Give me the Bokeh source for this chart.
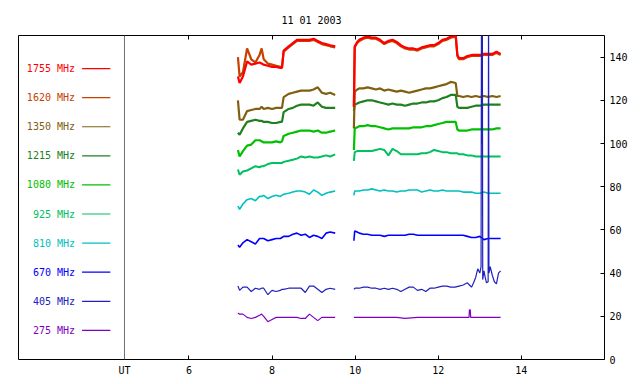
import numpy as np
from bokeh.plotting import figure
from bokeh.models import Range1d, LinearAxis, FixedTicker, Span, ColumnDataSource
from bokeh.core.properties import value
from bokeh.embed import file_html
from bokeh.resources import INLINE

TITLE = "11 01 2003"
FREQS = ["1755 MHz", "1620 MHz", "1350 MHz", "1215 MHz", "1080 MHz",
         "925 MHz", "810 MHz", "670 MHz", "405 MHz", "275 MHz"]
COLORS = ["#ff0000", "#c84000", "#806010", "#208020", "#00c000",
          "#00c060", "#00c0c0", "#0000ff", "#2020c0", "#8000c0"]
WIDTHS = [2.2, 2.2, 2.2, 2.2, 2.2, 2, 1.6, 1.6, 1.2, 1.2]

X_TICKS = [6, 8, 10, 12, 14]
UT_POS = 4.45
Y_TICKS = [0, 20, 40, 60, 80, 100, 120, 140]

# common time grids (UT hours)
T1 = [7.18, 7.22, 7.3, 7.4, 7.5, 7.6, 7.7, 7.75, 7.8, 7.9, 8.0, 8.1, 8.2, 8.24, 8.28,
      8.4, 8.5, 8.6, 8.7, 8.8, 8.9, 9.0, 9.1, 9.2, 9.3, 9.4, 9.52]
T2 = [9.97, 9.99, 10.05, 10.1, 10.2, 10.3, 10.4, 10.5, 10.6, 10.7, 10.8, 10.9, 11.0,
      11.1, 11.2, 11.3, 11.4, 11.5, 11.6, 11.7, 11.8, 11.9, 12.0, 12.1, 12.2, 12.3,
      12.42, 12.46, 12.5, 12.6, 12.7, 12.8, 12.9, 13.0, 13.1, 13.2, 13.3, 13.4, 13.5]

F1755_1 = [131, 128, 131, 138, 136.5, 137, 137.5, 137, 136.5, 136, 135.5, 135.5, 135, 135,
           143, 145, 146.5, 148, 148, 148, 148, 148.5, 147.5, 146.5, 146, 145.5, 145]
F1755_2 = [117, 145, 147, 148, 149, 149.5, 149, 149, 148, 146.5, 147.5, 148, 147, 145.5,
           144.5, 144, 144, 143.5, 144.5, 145, 145.5, 145.5, 146.5, 148, 148.5, 149.5, 150,
           141, 139.5, 139.5, 140.5, 141, 141, 141, 141.5, 141.5, 141.5, 142.5, 141.5]

F1620_1 = [140, 131, 133, 144, 139, 137.5, 141, 144, 139, 137, 136.5, 136, 135.5, 135.5,
           142.5, 144.5, 146, 147.5, 147.5, 147.5, 147.5, 148, 147, 146, 145.5, 145, 144.5]
F1620_2 = [117, 144.5, 146.5, 147.5, 148.5, 149, 148.5, 148.5, 147.5, 146, 147, 147.5, 146.5,
           145, 144, 143.5, 143.5, 143, 144, 144.5, 145, 145, 146, 147.5, 148, 149, 149.5,
           140.5, 139, 139, 140, 140.5, 140.5, 140.5, 141, 141, 141, 142, 141]

F1350_1 = [120, 111, 111, 115, 115.5, 116, 116, 117, 116, 116.5, 116, 116.5, 116.5, 116.5,
           121.5, 123, 123.5, 124, 124.5, 124.5, 124.5, 125, 126, 123.5, 123, 123.5, 122.5]
F1350_2 = [107, 124, 125, 125.5, 125.5, 126, 125.5, 125, 125.5, 124.5, 125, 124.5, 124,
           124.5, 124, 123.5, 124, 124.5, 125, 125.5, 125.5, 126, 126.5, 127, 127.5, 128.5,
           128, 122, 122, 121.5, 122, 121.5, 122, 121.5, 122, 121.5, 122, 121.5, 122]

F1215_1 = [105, 104, 107, 110, 110.5, 111, 110.5, 110.5, 110, 110, 109.5, 109.5, 110, 110,
           114.5, 116, 116.5, 117.5, 118, 118, 118, 117.5, 119, 117, 116.5, 116.5, 116.5]
F1215_2 = [115, 118, 118.5, 119, 119.5, 120, 120, 119.5, 119, 118.5, 118, 118.5, 118, 118,
           117.5, 118, 118.5, 118.5, 119, 119, 119.5, 119.5, 120, 121, 121.5, 122.5, 122.5,
           117, 116.5, 116.5, 116.5, 117, 117.5, 117.5, 118, 118, 118, 118, 118]

F1080_1 = [97, 94, 96.5, 99, 99.5, 101.5, 101.5, 101, 100.5, 100.5, 100.5, 101, 100.5, 101,
           103.5, 104.5, 105, 105.5, 106, 106, 106, 105.5, 106, 105, 105, 105.5, 106]
F1080_2 = [97, 107, 107.5, 108, 108, 108.5, 108, 108, 107.5, 107, 106.5, 107, 107, 107, 107,
           107, 107.5, 107.5, 107.5, 108, 108, 108.5, 109, 109.5, 110, 110, 110, 106.5, 106,
           106, 106, 106.5, 106.5, 106.5, 106.5, 106.5, 106.5, 107, 107]

F925_1 = [88, 85.5, 87, 87.5, 88.5, 89.5, 89, 89.5, 89.5, 90.5, 91, 91, 91, 91, 91.5, 92,
          92.5, 93, 94, 93.5, 94, 93.5, 93.5, 94, 94.5, 94, 95]
F925_2 = [92, 96, 96.5, 96.5, 96.5, 96.5, 96.5, 97, 97.5, 97, 94.5, 97.5, 96.5, 95, 95, 95,
          95, 95, 95.5, 95.5, 96, 97, 96.5, 96, 96, 95.5, 95.5, 95.5, 95, 95, 94.5, 94.5, 94,
          94, 94, 94, 94, 94, 94]

F810_1 = [71, 69.5, 72, 74, 74.5, 73.5, 75.5, 75.5, 76, 74.5, 75.5, 76, 75.5, 76, 76.5, 77,
          77.5, 78, 78, 77.5, 76.5, 78.5, 77.5, 76, 77, 77.5, 78]
F810_2 = [76, 78, 78, 78, 78.5, 78.5, 79, 78.5, 78, 78.5, 78, 78, 77.5, 78, 78, 78.5, 78.5,
          78.5, 77.5, 78, 78.5, 78, 78, 78.5, 78, 78, 78, 78, 78, 77.5, 77.5, 77.5, 77, 77,
          77.5, 77, 77, 77, 77]

F670_1 = [53, 52, 54, 55.5, 54.5, 53.5, 56, 56, 56, 55, 55.5, 56, 56, 56.5, 57, 57, 58, 58.5,
          57.5, 58, 56.5, 57.5, 57, 56, 58.5, 59, 58.5]
F670_2 = [55, 59.5, 59, 58.5, 58, 58, 57.5, 57.5, 57.5, 57, 57.5, 57.5, 57.5, 57.5, 57.5, 58,
          58, 57.5, 57.5, 57.5, 57.5, 57.5, 57.5, 57.5, 57.5, 57.5, 57.5, 57.5, 57.5, 57.5,
          57, 56.5, 56.5, 57, 55.5, 56, 56, 56, 56]

F405_1 = [34, 32, 33.5, 33.5, 31.5, 33, 32.5, 33, 33, 30, 32, 31.5, 32, 32.5, 32.5, 33, 33,
          33, 33, 31, 34, 34, 32.5, 31, 32.5, 33, 32.5]
T405_2 = [9.97, 10.0, 10.1, 10.2, 10.3, 10.4, 10.5, 10.6, 10.7, 10.8, 10.9, 11.0, 11.1, 11.2,
          11.3, 11.4, 11.5, 11.6, 11.7, 11.8, 11.9, 12.0, 12.1, 12.2, 12.3, 12.4, 12.5, 12.6,
          12.7, 12.75, 12.8, 12.85, 12.9, 12.95, 13.0, 13.03, 13.04, 13.045, 13.05, 13.055,
          13.06, 13.07, 13.1, 13.13, 13.16, 13.2, 13.21, 13.22, 13.25, 13.3, 13.35, 13.4,
          13.45, 13.5]
F405_2 = [32.5, 33, 33, 33.5, 33.5, 33, 33, 32.5, 33, 32.5, 33, 32.5, 31.5, 32.5, 33.5, 33.5,
          32, 32.5, 31.5, 33, 33, 33.5, 34, 34, 33.5, 33.5, 34, 34.5, 35.5, 34.5, 33.5, 35.5,
          38, 42, 40, 43, 170, 102, 170, 100, 170, 37, 41, 38, 35.5, 36, 170, 40, 43, 39, 36,
          35, 40, 41]

F275_1 = [21.5, 21, 21, 19.5, 19, 19.5, 20.5, 21, 20, 17.5, 18.5, 19.5, 19.5, 19.5, 19.5,
          19.5, 19.5, 19.5, 19, 19, 21, 19.5, 18, 19.5, 19.5, 19.5, 19.5]
T275_2 = [9.97, 10.2, 10.5, 10.8, 11.0, 11.2, 11.5, 11.8, 12.0, 12.3, 12.5, 12.74, 12.75,
          12.77, 12.78, 13.0, 13.2, 13.5]
F275_2 = [19.5, 19.5, 19.5, 19.5, 19.5, 19, 19.5, 19.5, 19.5, 19.5, 19.5, 19.5, 23, 23, 19.5,
          19.5, 19.5, 19.5]

SERIES = {
    "1755 MHz": (T1, F1755_1, T2, F1755_2),
    "1620 MHz": (T1, F1620_1, T2, F1620_2),
    "1350 MHz": (T1, F1350_1, T2, F1350_2),
    "1215 MHz": (T1, F1215_1, T2, F1215_2),
    "1080 MHz": (T1, F1080_1, T2, F1080_2),
    "925 MHz": (T1, F925_1, T2, F925_2),
    "810 MHz": (T1, F810_1, T2, F810_2),
    "670 MHz": (T1, F670_1, T2, F670_2),
    "405 MHz": (T1, F405_1, T405_2, F405_2),
    "275 MHz": (T1, F275_1, T275_2, F275_2),
}

FONT = "DejaVu Sans Mono"

p = figure(frame_width=586, frame_height=324,
           x_range=Range1d(1.9, 16.0), y_range=Range1d(0, 150),
           output_backend="svg", toolbar_location=None,
           x_axis_location=None, y_axis_location=None,
           min_border_left=18, min_border_right=28,
           min_border_top=35, min_border_bottom=17)
p.xgrid.visible = False
p.ygrid.visible = False
p.outline_line_color = "black"
p.outline_line_width = 1
p.outline_line_alpha = 1.0
p.background_fill_color = "white"
p.border_fill_color = "white"

p.title.text = TITLE
p.title.align = "center"
p.title.text_font = FONT
p.title.text_font_size = "10px"
p.title.text_font_style = "normal"
p.title.text_color = "black"
p.title.standoff = 20


def style_axis(ax):
    ax.major_tick_in = 4
    ax.major_tick_out = 0
    ax.minor_tick_line_color = None
    ax.axis_line_color = None
    ax.major_tick_line_color = "black"
    ax.major_label_text_font = FONT
    ax.major_label_text_font_size = "10px"
    ax.major_label_text_color = "black"


bottom = LinearAxis(ticker=FixedTicker(ticks=[UT_POS] + X_TICKS),
                    major_label_overrides={UT_POS: "UT"})
style_axis(bottom)
bottom.major_label_standoff = 5
p.add_layout(bottom, "below")

top = LinearAxis(ticker=FixedTicker(ticks=X_TICKS),
                 major_label_overrides={t: "" for t in X_TICKS})
style_axis(top)
top.major_label_standoff = 0
p.add_layout(top, "above")

right = LinearAxis(ticker=FixedTicker(ticks=Y_TICKS))
style_axis(right)
right.major_label_standoff = 5
p.add_layout(right, "right")

p.add_layout(Span(location=UT_POS, dimension="height", line_color="#707070", line_width=1))

order = ["275 MHz", "670 MHz", "810 MHz", "925 MHz", "1080 MHz", "1215 MHz",
         "1350 MHz", "1620 MHz", "1755 MHz", "405 MHz"]
for name in order:
    i = FREQS.index(name)
    ta, va, tb, vb = SERIES[name]
    xs = np.array(list(ta) + [np.nan] + list(tb), dtype=float)
    ys = np.array(list(va) + [np.nan] + list(vb), dtype=float)
    p.line(xs, ys, line_color=COLORS[i], line_width=WIDTHS[i])

# legend panel on the left (layout constants)
LEG_TEXT_X = 3.26
LEG_LINE_X0 = 3.43
LEG_LINE_X1 = 4.11
LEG_TOP = 134.7
LEG_STEP = 13.47
leg = ColumnDataSource(dict(
    y=[LEG_TOP - k * LEG_STEP for k in range(len(FREQS))],
    text=FREQS, color=COLORS))
p.text(x=LEG_TEXT_X, y="y", text="text", text_color="color", source=leg,
       text_align="right", text_baseline="middle",
       text_font=value(FONT), text_font_size=value("10px"))
p.segment(x0=LEG_LINE_X0, x1=LEG_LINE_X1, y0="y", y1="y", line_color="color",
          line_width=1.2, source=leg)

open("out.html", "w").write(file_html(p, INLINE))
